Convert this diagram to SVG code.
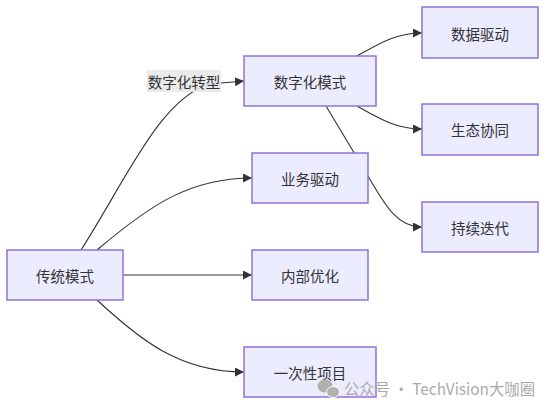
<svg xmlns="http://www.w3.org/2000/svg" width="553" height="412" viewBox="0 0 553 412">
<style>
.node rect{fill:#ECECFF;stroke:#9370DB;stroke-width:1.5}
.node text,.lbl text{font-family:"Noto Sans CJK SC","Liberation Sans",sans-serif;font-size:14.5px;fill:#333;text-anchor:middle;dominant-baseline:central}
.edge{fill:none;stroke:#333;stroke-width:1.1}
</style>
<defs>
<marker id="arr" markerWidth="9" markerHeight="9" refX="9" refY="4.5" orient="auto" markerUnits="userSpaceOnUse">
<path d="M0,0 L9,4.5 L0,9 z" fill="#333"/>
</marker>
</defs>
<rect width="553" height="412" fill="#fff"/>
<g id="connectors">
<path class="edge" d="M81,250 C125,182 160,98 210,84 L244,81" marker-end="url(#arr)"/>
<path class="edge" d="M97,250 C150,205 190,178 252,178" marker-end="url(#arr)"/>
<path class="edge" d="M123,275 L252,275" marker-end="url(#arr)"/>
<path class="edge" d="M97,300 C140,340 180,372 244,372" marker-end="url(#arr)"/>
<path class="edge" d="M357,56 C382,42 397,33 422,33" marker-end="url(#arr)"/>
<path class="edge" d="M357,106 C382,120 397,129 422,129" marker-end="url(#arr)"/>
<path class="edge" d="M326,106 L368,176 C385,205 397,227 422,227" marker-end="url(#arr)"/>
</g>
<g id="label-shuzihuazhuanxing" class="lbl">
<rect x="147" y="70" width="74" height="22" fill="#e8e8e8" opacity="0.9"/>
<text x="184" y="81">数字化转型</text>
</g>
<g id="n-chuantong" class="node"><rect x="7" y="250" width="116" height="50"/><text x="65" y="275">传统模式</text></g>
<g id="n-shuzihua" class="node"><rect x="244" y="56" width="132" height="50"/><text x="310" y="81">数字化模式</text></g>
<g id="n-yewu" class="node"><rect x="252" y="153" width="116" height="50"/><text x="310" y="178">业务驱动</text></g>
<g id="n-neibu" class="node"><rect x="252" y="250" width="116" height="50"/><text x="310" y="275">内部优化</text></g>
<g id="n-yicixing" class="node"><rect x="244" y="347" width="132" height="50"/><text x="310" y="372">一次性项目</text></g>
<g id="n-shuju" class="node"><rect x="422" y="7" width="116" height="51"/><text x="480" y="33">数据驱动</text></g>
<g id="n-shengtai" class="node"><rect x="422" y="104" width="116" height="51"/><text x="480" y="129">生态协同</text></g>
<g id="n-chixu" class="node"><rect x="422" y="202" width="116" height="50"/><text x="480" y="227">持续迭代</text></g>
<g id="watermark">
<ellipse cx="325" cy="386" rx="7.5" ry="6.5" fill="#b0b0b0"/>
<ellipse cx="333" cy="392" rx="6.5" ry="5.5" fill="#b0b0b0" stroke="#fff" stroke-width="1"/>
<text x="344" y="395" font-family="Noto Sans CJK SC,Liberation Sans,sans-serif" font-size="16" fill="#aaa" textLength="191" lengthAdjust="spacingAndGlyphs">公众号 · TechVision大咖圈</text>
</g>
</svg>
